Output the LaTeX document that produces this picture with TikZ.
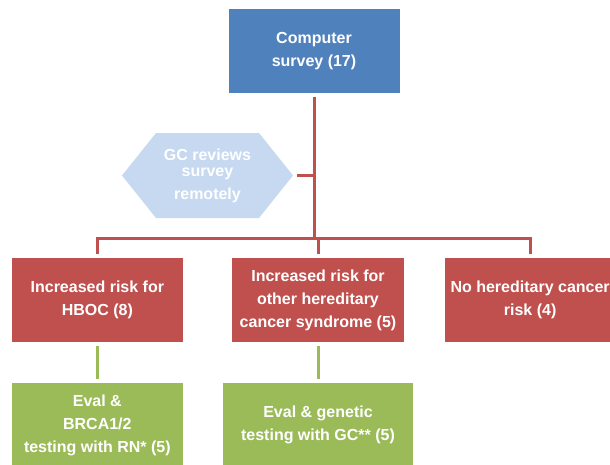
\documentclass[tikz,border=0pt]{standalone}
\usepackage{fontspec}
\setmainfont{Liberation Sans}
\usetikzlibrary{positioning,shapes.symbols}
\definecolor{surveyblue}{HTML}{4F81BD}
\definecolor{reviewblue}{HTML}{C6D9F1}
\definecolor{riskred}{HTML}{C0504D}
\definecolor{evalgreen}{HTML}{9BBB59}
\tikzset{
  box/.style={rectangle, minimum width=171pt, minimum height=84pt, inner sep=2pt,
    align=center, text=white, font=\fontsize{16}{23}\selectfont\bfseries},
  survey/.style={box, fill=surveyblue},
  review/.style={box, signal, signal to=west and east, signal pointer angle=102.7,
    minimum width=171pt, minimum height=85pt, inner sep=0pt, fill=reviewblue},
  risk/.style={box, fill=riskred},
  eval/.style={box, fill=evalgreen},
  link/.style={draw=riskred, line width=3pt},
  evallink/.style={draw=evalgreen, line width=3pt, shorten <=4pt, shorten >=4pt},
}
\begin{document}
\begin{tikzpicture}[x=1pt, y=-1pt]

  \useasboundingbox (0,0) rectangle (610,464);

  % Define nodes

  % survey
  \node[survey] (comp) at (314,51) {Computer\\survey (17)}; %

  % remote review
  \node[review] (gc) at (207.5,175.5) {GC reviews\\[-7pt]survey\\remotely}; %

  % risk groups
  \node[risk] (hboc) at (97.35,300) {Increased risk for\\HBOC (8)}; %
  \node[risk, minimum width=171.5pt, right=49pt of hboc] (other)
    {Increased risk for\\other hereditary\\cancer syndrome (5)}; %
  \node[risk, right=40.5pt of other] (none) {No hereditary cancer\\risk (4)}; %

  % evaluation
  \node[eval, below=40.7pt of hboc] (rn) {Eval \&\\BRCA1/2\\testing with RN* (5)}; %
  \node[eval, minimum width=189.5pt, below=40.7pt of other] (gceval)
    {Eval \& genetic\\testing with GC** (5)}; %

  \coordinate (bus) at (0,238); %

  % Edges
  \draw[link, shorten <=4pt] (comp.south) -- (comp.south |- bus);
  \draw[link, shorten <=3.5pt] (gc.east) -- (gc.east -| comp.south);
  \draw[link, line cap=rect] (hboc.north |- bus) -- (none.north |- bus);
  \draw[link, shorten >=4pt] (hboc.north |- bus) -- (hboc.north);
  \draw[link, shorten >=4pt] (other.north |- bus) -- (other.north);
  \draw[link, shorten >=4pt] (none.north |- bus) -- (none.north);
  \draw[evallink] (hboc) -- (rn);
  \draw[evallink] (other) -- (gceval);

\end{tikzpicture}
\end{document}
